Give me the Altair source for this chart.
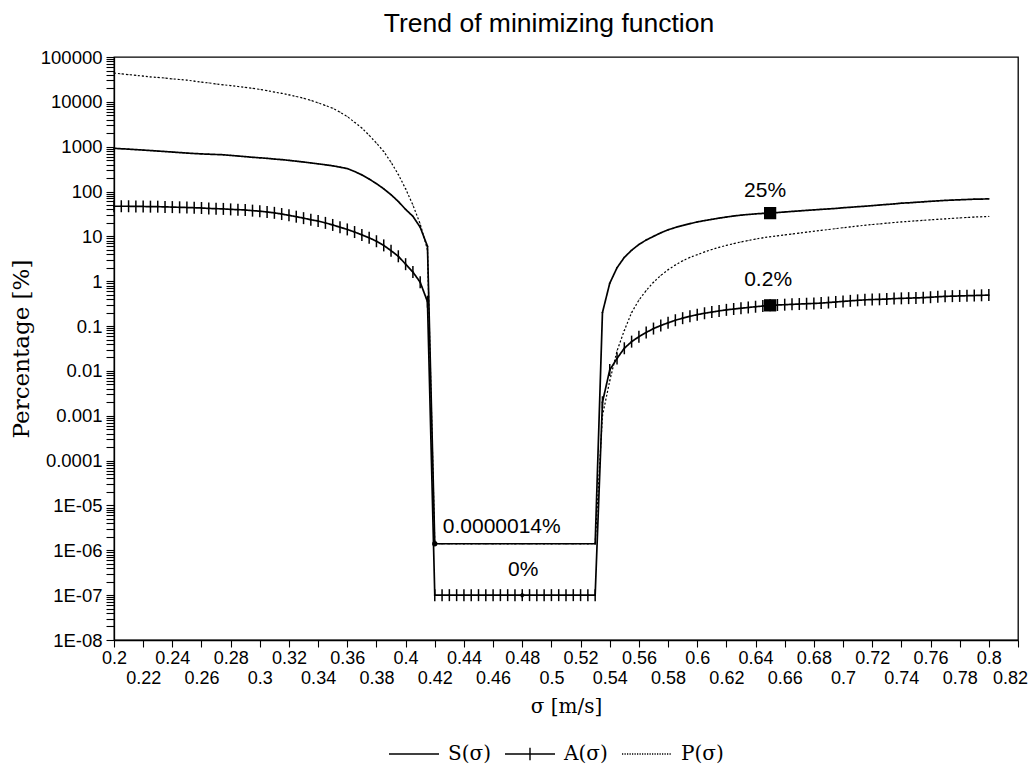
import json
import altair as alt
import pandas as pd

# ---------------- data ----------------
sigma = [round(0.2 + 0.005 * i, 3) for i in range(121)]

S_vals = [920, 900, 880, 860, 840, 820, 800, 780, 760, 740,
          720, 705, 690, 680, 670, 660, 640, 620, 600, 580,
          565, 550, 530, 515, 495, 475, 455, 435, 415, 395,
          375, 350, 325, 280, 235, 190, 150, 115, 85, 60,
          40, 28, 16, 6] + [1.4e-6] * 23 + [
          0.2, 0.9, 2.0, 3.4, 4.9, 6.6, 8.3, 10, 12, 14,
          15.8, 17.5, 19.2, 21, 22.5, 24, 25.5, 27, 28.5, 29.7,
          30.8, 31.8, 32.5, 33, 34, 35, 36, 37, 38, 39,
          40, 41, 42, 43.5, 44.5, 46, 47, 48.5, 50, 51.5,
          53, 55, 56, 57.5, 59, 60.5, 62, 63.5, 64.5, 65.5,
          66.5, 67.5, 68, 68.5]

A_vals = [47, 47, 47, 46.5, 46.5, 46, 46, 45.5, 45, 44.5,
          44, 43.5, 43, 42, 41.5, 41, 40, 39.5, 38.8, 37.5,
          36.5, 35, 33.5, 31.5, 29.5, 27.5, 25.5, 23.5, 22, 20,
          18, 16, 14.3, 12.5, 10.8, 9.3, 7.8, 6.3, 4.8, 3.6,
          2.4, 1.6, 0.95, 0.35] + [1e-7] * 23 + [
          0.002, 0.0105, 0.019, 0.032, 0.045, 0.058, 0.072, 0.088, 0.103, 0.118,
          0.135, 0.15, 0.165, 0.18, 0.193, 0.205, 0.218, 0.23, 0.24, 0.25,
          0.26, 0.27, 0.28, 0.29, 0.295, 0.30, 0.305, 0.31, 0.315, 0.32,
          0.325, 0.335, 0.345, 0.355, 0.365, 0.375, 0.385, 0.39, 0.395, 0.40,
          0.41, 0.415, 0.42, 0.425, 0.43, 0.44, 0.45, 0.46, 0.465, 0.47,
          0.475, 0.48, 0.485, 0.49]

P_vals = [44000, 42000, 40500, 39000, 37500, 36000, 35000, 34000, 32500, 31500,
          30500, 29000, 27500, 26500, 25000, 24000, 23000, 22000, 21000, 20000,
          19000, 17800, 16500, 15500, 14300, 13200, 12000, 10800, 9500, 8300,
          7200, 5900, 4700, 3500, 2600, 1800, 1200, 780, 450, 240,
          115, 50, 19, 5] + [1.4e-6] * 23 + [
          0.001, 0.006, 0.028, 0.08, 0.2, 0.38, 0.62, 0.95, 1.35, 1.8,
          2.3, 2.85, 3.4, 3.9, 4.5, 5.1, 5.7, 6.3, 6.9, 7.5,
          8.1, 8.7, 9.3, 9.8, 10.3, 10.8, 11.3, 11.8, 12.4, 13,
          13.6, 14.2, 14.9, 15.6, 16.3, 17, 17.7, 18.4, 19, 19.7,
          20.4, 21, 21.6, 22.2, 22.8, 23.4, 24, 24.6, 25.2, 25.8,
          26.4, 27, 27.4, 27.8]

series_names = ["S(σ)", "A(σ)", "P(σ)"]

x_tick_values = [round(0.2 + 0.02 * i, 2) for i in range(32)]
y_tick_labels = ["1E-08", "1E-07", "1E-06", "1E-05", "0.0001", "0.001", "0.01",
                 "0.1", "1", "10", "100", "1000", "10000", "100000"]
y_tick_values = [m * 10.0 ** k for k in range(-8, 5) for m in range(1, 10)] + [1e5]

# annotations: marker points and their labels
ann_sigma = [0.42, 0.48, 0.65, 0.65]
ann_value = [1.4e-6, 1e-7, 33, 0.29]
ann_text = ["0.0000014%", "0%", "25%", "0.2%"]

# ---------------- frames ----------------
rows = []
for name, vals in zip(series_names, [S_vals, A_vals, P_vals]):
    for s, v in zip(sigma, vals):
        rows.append({"series": name, "sigma": s, "value": v})
df = pd.DataFrame(rows)
ann = pd.DataFrame({"sigma": ann_sigma, "value": ann_value, "text": ann_text})

# ---------------- styles ----------------
SANS = "Liberation Sans"
SERIF = "DejaVu Serif"

path_S = "M-1,0L1,0"
path_A = "M-1,0L1,0M0,-0.25L0,0.25"
segs = []
k = 0
while -1 + k * 0.1 < 1:
    a = -1 + k * 0.1
    segs.append(f"M{a:.2f},0L{min(a + 0.05, 1):.2f},0")
    k += 1
path_P = "".join(segs)

label_js = json.dumps(y_tick_labels)
y_label_expr = (
    "abs(log(datum.value)/LN10 - round(log(datum.value)/LN10)) < 0.001 ? "
    f"{label_js}[round(log(datum.value)/LN10) + 8] : ''"
)

x_axis = alt.Axis(
    values=x_tick_values, format="~g", tickSize=7, labelFont=SANS, labelFontSize=18,
    labelPadding={"condition": {"test": "round(datum.value*100) % 4 == 2", "value": 22}, "value": 2},
    labelOffset={"condition": {"test": "datum.value > 0.815", "value": -8}, "value": 0},
    labelOverlap=False, labelFlush=False, grid=False,
    titleFont=SERIF, titleFontSize=20, titleFontWeight="normal", titlePadding=9,
)
y_axis = alt.Axis(
    values=y_tick_values, labelExpr=y_label_expr, tickSize=8, labelFont=SANS,
    labelFontSize=18.5, labelPadding=4, labelOverlap=False, grid=False,
    titleFont=SERIF, titleFontSize=23, titleFontWeight="normal", titlePadding=7,
)

x_enc = alt.X("sigma:Q", scale=alt.Scale(domain=[0.2, 0.82], nice=False, zero=False),
              axis=x_axis, title="σ [m/s]")
y_enc = alt.Y("value:Q", scale=alt.Scale(type="log", domain=[1e-8, 1e5], nice=False),
              axis=y_axis, title="Percentage [%]")

base = alt.Chart(df)

line_style = {"S(σ)": (1.7, [1, 0]), "A(σ)": (1.7, [1, 0]), "P(σ)": (1.2, [2, 2])}
line_layers = []
for name in series_names:
    w, dash = line_style[name]
    line_layers.append(
        base.transform_filter(alt.datum.series == name).mark_line(
            color="black", strokeWidth=w, strokeDash=dash
        ).encode(x=x_enc, y=y_enc)
    )

a_ticks = base.transform_filter(alt.datum.series == "A(σ)").mark_point(
    shape="M0,-1L0,1", size=144, filled=False, stroke="black", strokeWidth=1.5, opacity=1
).encode(x=x_enc, y=y_enc)

# legend carrier: tiny marks sitting on the curves themselves
legend_layer = base.mark_point(filled=False, size=3, opacity=1, stroke="black", strokeWidth=1).encode(
    x=x_enc, y=y_enc,
    shape=alt.Shape("series:N", scale=alt.Scale(domain=series_names, range=[path_S, path_A, path_P]),
                    legend=alt.Legend(title=None, orient="none", legendX=274, legendY=671,
                                      direction="horizontal", symbolSize=2500, symbolStrokeWidth=1.4,
                                      symbolStrokeColor="black", symbolFillColor="transparent",
                                      symbolOpacity=1, labelFont=SERIF, labelFontSize=20,
                                      labelColor="black", labelOffset=8, columnPadding=11)),
)

abase = alt.Chart(ann)
squares = abase.transform_filter(alt.datum.sigma == 0.65).mark_square(
    size=150, color="black", opacity=1).encode(x=x_enc, y=y_enc)
dot = abase.transform_filter(alt.datum.sigma == 0.42).mark_circle(
    size=28, color="black", opacity=1).encode(x=x_enc, y=y_enc)
diamond = abase.transform_filter(alt.datum.sigma == 0.48).mark_point(
    shape="diamond", size=30, filled=True, color="black", opacity=1).encode(x=x_enc, y=y_enc)

text_style = [  # (label, align, dx, dy)
    ("0.0000014%", "left", 8, -17),
    ("0%", "center", 1, -25),
    ("25%", "center", -5, -22),
    ("0.2%", "center", -2, -25),
]
texts = []
for lbl, al, dx, dy in text_style:
    texts.append(
        abase.transform_filter(alt.datum.text == lbl).mark_text(
            font=SANS, fontSize=21, color="black", align=al, baseline="middle", dx=dx, dy=dy
        ).encode(x=x_enc, y=y_enc, text="text:N")
    )

chart = alt.layer(*line_layers, a_ticks, legend_layer, squares, dot, diamond, *texts).properties(
    width=904, height=583,
    autosize=alt.AutoSizeParams(type="none"),
    padding={"left": 106, "top": 49, "right": 10, "bottom": 125},
    title=alt.TitleParams("Trend of minimizing function", font=SANS, fontSize=26.5,
                          fontWeight="normal", color="black", anchor="middle", dx=-17, offset=11),
).configure_view(stroke="black", strokeWidth=1.3).configure_axis(
    labelColor="black", tickColor="black", domainColor="black", titleColor="black",
    domainWidth=1.3, tickWidth=1.1,
)

chart.save("out.html", embed_options={"renderer": "svg", "actions": False})
